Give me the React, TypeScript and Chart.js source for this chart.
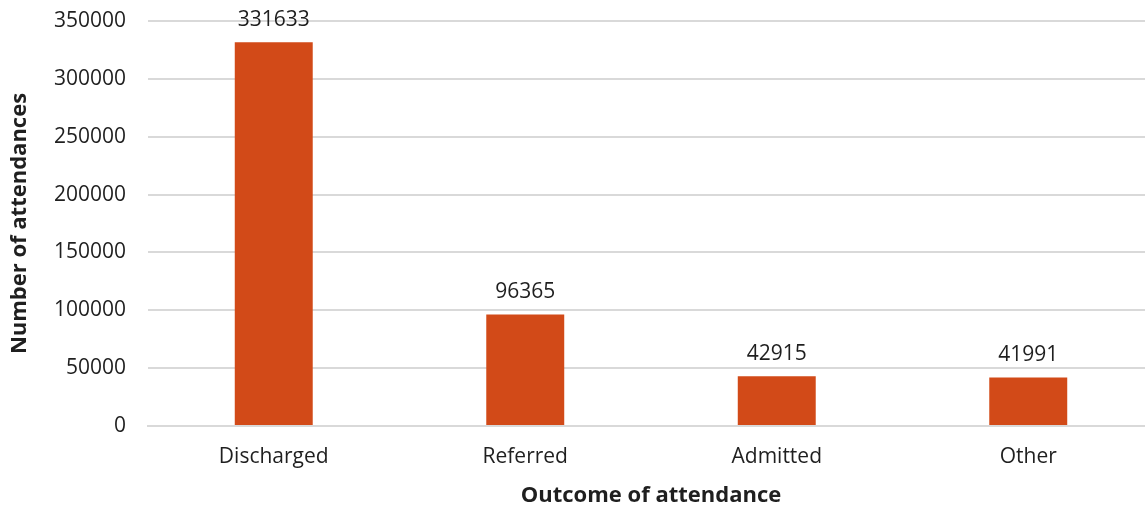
import React, { useEffect, useRef } from "react";
import { Chart, registerables } from "chart.js";

Chart.register(...registerables);

const categories = ["Discharged", "Referred", "Admitted", "Other"];
const attendances = [331633, 96365, 42915, 41991];
const yMax = 350000;
const yStep = 50000;
const xTitle = "Outcome of attendance";
const yTitle = "Number of attendances";

const FONT = "'Open Sans', sans-serif";
const TEXT = "#1f1f1f";

const valueLabels = {
  id: "valueLabels",
  afterDatasetsDraw(chart: any) {
    const { ctx } = chart;
    const meta = chart.getDatasetMeta(0);
    const data = chart.data.datasets[0].data;
    ctx.save();
    ctx.font = `21px ${FONT}`;
    ctx.fillStyle = TEXT;
    ctx.textAlign = "center";
    ctx.textBaseline = "middle";
    meta.data.forEach((bar: any, i: number) => {
      ctx.fillText(String(data[i]), bar.x, bar.y - 22);
    });
    ctx.restore();
  },
};

export default function App() {
  const ref = useRef<HTMLCanvasElement>(null);
  useEffect(() => {
    if (!ref.current) return;
    const chart = new Chart(ref.current, {
      type: "bar",
      data: {
        labels: categories,
        datasets: [
          {
            data: attendances,
            backgroundColor: "#D24A18",
            barPercentage: 0.31,
            categoryPercentage: 1,
          },
        ],
      },
      options: {
        responsive: false,
        animation: false,
        devicePixelRatio: 1,
        layout: { padding: { top: 21, right: 6, bottom: 0, left: 0 } },
        plugins: { legend: { display: false }, tooltip: { enabled: false } },
        scales: {
          x: {
            afterFit: (s: any) => {
              s.height = 84;
              s.paddingLeft = 0;
              s.paddingRight = 0;
            },
            grid: { display: false, drawTicks: false },
            border: { display: true, color: "#D9D9D9", width: 2 },
            ticks: { color: TEXT, font: { family: FONT, size: 21 }, padding: 18 },
            title: {
              display: true,
              text: xTitle,
              color: TEXT,
              font: { family: FONT, size: 22, weight: "bold" },
              padding: { top: 0, bottom: 1 },
            },
          },
          y: {
            min: 0,
            max: yMax,
            afterFit: (s: any) => {
              s.width = 148;
              s.paddingTop = 0;
              s.paddingBottom = 0;
            },
            grid: { color: "#D9D9D9", lineWidth: 2, drawTicks: false },
            border: { display: false },
            ticks: {
              stepSize: yStep,
              color: TEXT,
              font: { family: FONT, size: 21 },
              padding: 22,
              callback: (v: any) => String(v),
            },
            title: {
              display: true,
              text: yTitle,
              color: TEXT,
              font: { family: FONT, size: 22, weight: "bold" },
              padding: { top: 7, bottom: 0 },
            },
          },
        },
      },
      plugins: [valueLabels],
    });
    return () => chart.destroy();
  }, []);
  return (
    <div
      style={{
        position: "absolute",
        left: 0,
        top: 0,
        width: 1145,
        height: 510,
        overflow: "hidden",
        background: "#fff",
      }}
    >
      <canvas ref={ref} width={1160} height={510} style={{ display: "block" }} />
    </div>
  );
}
